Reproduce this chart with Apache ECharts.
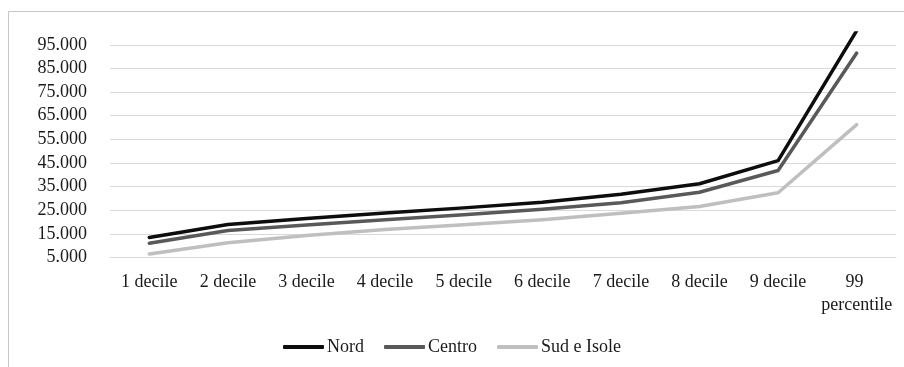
<!DOCTYPE html>
<html>
<head>
<meta charset="utf-8">
<script src="https://cdn.jsdelivr.net/npm/echarts@6/dist/echarts.min.js"></script>
<style>
html,body{margin:0;padding:0;background:#fff;}
#chart{width:904px;height:367px;}
</style>
</head>
<body>
<div id="chart"></div>
<script>
var categories = ['1 decile','2 decile','3 decile','4 decile','5 decile','6 decile','7 decile','8 decile','9 decile','99 percentile'];
var nord   = [13500, 19000, 21500, 23800, 26000, 28400, 31800, 36200, 46000, 101000];
var centro = [11000, 16400, 18800, 21000, 23100, 25400, 28200, 32600, 41800, 91500];
var sud    = [6500, 11200, 14300, 16800, 18900, 21000, 23700, 26600, 32400, 61200];
var seriesNames = ['Nord','Centro','Sud e Isole'];
var seriesColors = ['#0d0d0d','#595959','#bfbfbf'];

function fmt(v){
  var s = String(Math.round(v));
  return s.replace(/\B(?=(\d{3})+(?!\d))/g, '.');
}
var FONT = '"Liberation Serif", "DejaVu Serif", serif';
var chart = echarts.init(document.getElementById('chart'), null, {renderer:'canvas'});
var data = [nord, centro, sud];
chart.setOption({
  backgroundColor:'#fff',
  animation:false,
  graphic:[{type:'rect', shape:{x:8.5,y:11.5,width:905,height:370}, style:{fill:'none',stroke:'#c6c6c6',lineWidth:1}, silent:true}],
  grid:{left:110, right:8, top:33, bottom:109.5, containLabel:false},
  legend:{
    data:seriesNames, top:333, left:'center',
    icon:'roundRect', itemWidth:41, itemHeight:4, itemGap:20,
    textStyle:{fontFamily:FONT, fontSize:18, color:'#1a1a1a', padding:[0,0,0,-2]}
  },
  xAxis:{
    type:'category', data:categories, boundaryGap:true,
    axisLine:{show:true, lineStyle:{color:'#d9d9d9', width:1}},
    axisTick:{show:false},
    axisLabel:{fontFamily:FONT, fontSize:18, color:'#1a1a1a', margin:13, interval:0, width:78, overflow:'break', lineHeight:23}
  },
  yAxis:{
    type:'value', min:5000, max:100000, interval:10000,
    axisLine:{show:false}, axisTick:{show:false},
    splitLine:{show:true, showMaxLine:false, lineStyle:{color:'#d9d9d9', width:1}},
    axisLabel:{fontFamily:FONT, fontSize:18, color:'#1a1a1a', margin:23, showMaxLabel:false, formatter:fmt}
  },
  series: seriesNames.map(function(n,i){
    return {name:n, type:'line', data:data[i], symbol:'none', clip:true,
      lineStyle:{color:seriesColors[i], width:3.5, cap:'round', join:'round'},
      itemStyle:{color:seriesColors[i]}};
  })
});
</script>
</body>
</html>
